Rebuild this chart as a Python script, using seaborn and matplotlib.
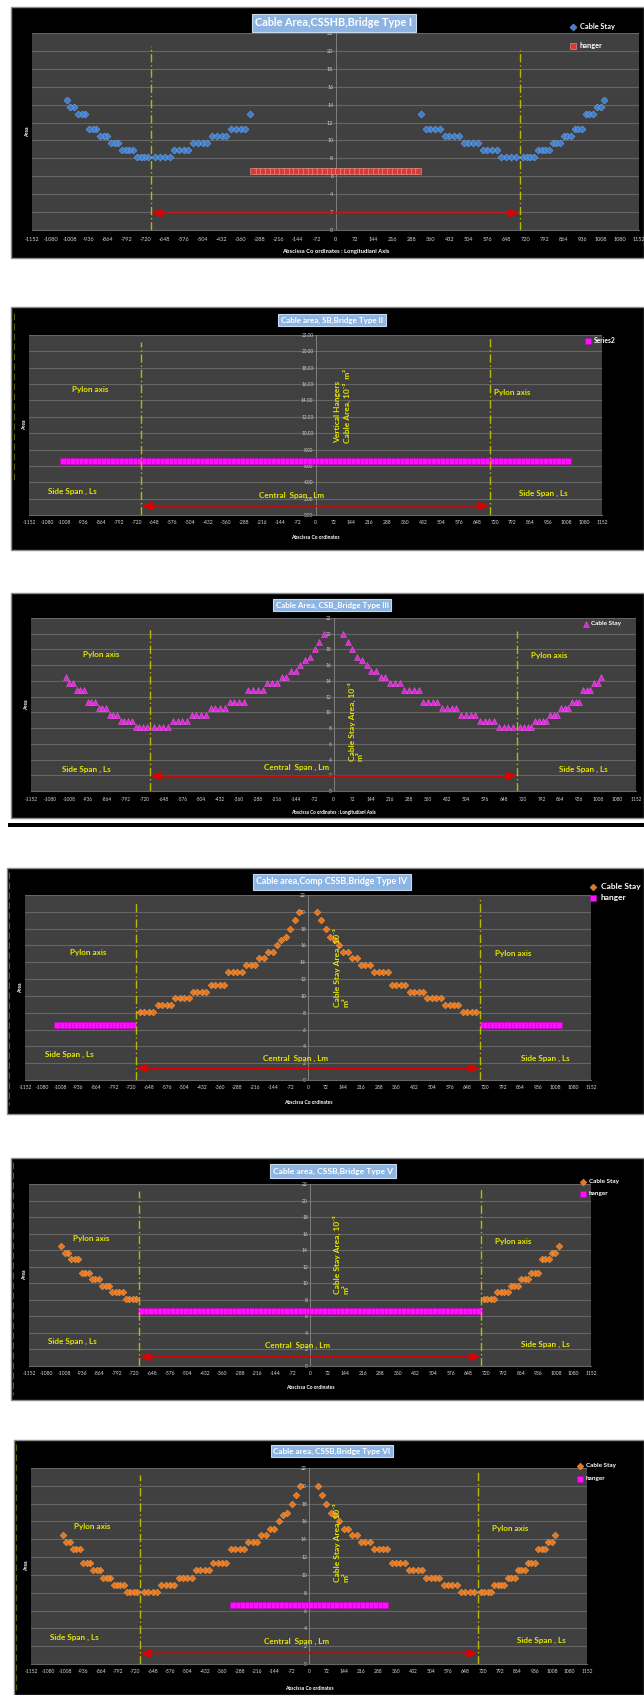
import matplotlib
matplotlib.use("Agg")
import matplotlib.pyplot as plt
from matplotlib.patches import Rectangle
from matplotlib.lines import Line2D
import pandas as pd
import seaborn as sns

# ---------------------------------------------------------------- data
X_TICK_LABELS = list(range(-1152, 1153, 72))
Y_TICK_LABELS = list(range(0, 23, 2))
PYLON_X = [-700, 700]

# cable-stay anchorages, one half of the bridge (side span: from pylon outward)
SIDE_X = [712, 726, 740, 754, 768, 782, 796, 810, 824, 838, 852, 866,
          880, 894, 908, 922, 936, 950, 964, 978, 992, 1006, 1020]
SIDE_AREA = [8.1, 8.1, 8.1, 8.1, 8.9, 8.9, 8.9, 8.9, 9.7, 9.7, 9.7, 10.5,
             10.5, 10.5, 11.3, 11.3, 11.3, 12.9, 12.9, 12.9, 13.7, 13.7, 14.5]
# main span: from pylon inward to mid-span
MAIN_X = [684, 666, 648, 630, 612, 594, 576, 558, 540, 522, 504, 486,
          468, 450, 432, 414, 396, 378, 360, 342, 324, 306, 288, 270,
          252, 234, 216, 198, 180, 162, 144, 126, 108, 90, 72, 54, 36]
MAIN_AREA = [8.1, 8.1, 8.1, 8.1, 8.9, 8.9, 8.9, 8.9, 9.7, 9.7, 9.7, 9.7,
             10.5, 10.5, 10.5, 10.5, 11.3, 11.3, 11.3, 11.3, 12.9, 12.9, 12.9, 12.9,
             13.7, 13.7, 13.7, 14.5, 14.5, 15.2, 15.2, 16.0, 16.7, 17.0, 18.0, 19.0, 20.0]
TYPE1_MAIN_STAYS = 21
# hangers, one half
HANGER_X = [9, 27, 45, 63, 81, 99, 117, 135, 153, 171, 189, 207, 225, 243, 261,
            279, 297, 315, 333, 351, 369, 387, 405, 423, 441, 459, 477, 495, 513,
            531, 549, 567, 585, 603, 621, 639, 657, 675, 693, 711, 729, 747, 765,
            783, 801, 819, 837, 855, 873, 891, 909, 927, 945, 963, 981, 999, 1017]
HANGER_AREA = 6.6

TITLES = ["Cable Area,CSSHB,Bridge Type I",
          "Cable area, SB,Bridge Type II",
          "Cable Area, CSB_Bridge Type III",
          "Cable area,Comp CSSB,Bridge Type IV",
          "Cable area, CSSB,Bridge Type V",
          "Cable area, CSSB,Bridge Type VI"]
XLABELS = ["Abscissa Co ordinates : Longitudianl Axis",
           "Abscissa Co ordinates",
           "Abscissa Co ordinates : Longitudianl Axis",
           "Abscissa Co ordinates",
           "Abscissa Co ordinates",
           "Abscissa Co ordinates"]


def both_sides(xs, ys):
    return pd.DataFrame({"x": [-v for v in xs] + list(xs),
                         "area": list(ys) + list(ys)})


def hangers_within(limit):
    xs = [h for h in HANGER_X if h <= limit]
    return both_sides(xs, [HANGER_AREA] * len(xs))


STAYS_FULL = both_sides(SIDE_X + MAIN_X, SIDE_AREA + MAIN_AREA)
STAYS_T1 = both_sides(SIDE_X + MAIN_X[:TYPE1_MAIN_STAYS],
                      SIDE_AREA + MAIN_AREA[:TYPE1_MAIN_STAYS])
STAYS_MAIN = both_sides(MAIN_X, MAIN_AREA)
STAYS_SIDE = both_sides(SIDE_X, SIDE_AREA)
HANG_SIDE = both_sides(SIDE_X, [HANGER_AREA] * len(SIDE_X))

# ---------------------------------------------------------------- style
sns.set_style("dark")
plt.rcParams["font.family"] = ["Lato", "DejaVu Sans"]
plt.rcParams["axes.unicode_minus"] = False

W, H = 644, 1695
PLOT_BG = "#404040"
GRID = "#666666"
YELLOW = "#e6e600"
PYLON_C = "#b8b800"

BLUE = dict(marker="D", s=13, fc="#3d7dd0", ec="#86b4ee", lw=0.3)
RED_SQ = dict(marker="s", s=22, fc="#d63b36", ec="#f29a96", lw=0.4)
MAG_SQ = dict(marker="s", s=20, fc="#ff10ff", ec="#c000c0", lw=0.4)
MAG_TRI = dict(marker="^", s=18, fc="#e424dc", ec="#f070f0", lw=0.3)
ORANGE = dict(marker="D", s=12, fc="#e8741c", ec="#ffb060", lw=0.3)

fig = plt.figure(figsize=(W / 100, H / 100), dpi=100)
fig.patch.set_facecolor("white")


def px_rect(l, t, r, b):
    return [l / W, 1 - b / H, (r - l) / W, (b - t) / H]


def draw_panel(p):
    l, t, r, b = p["frame"]
    fig.add_artist(Rectangle((l / W, 1 - b / H), (r - l) / W, (b - t) / H,
                             transform=fig.transFigure, facecolor="black",
                             edgecolor="#8c8c8c", linewidth=1.0, zorder=-10))
    ax = fig.add_axes(px_rect(*p["plot"]))
    ax.set_facecolor(PLOT_BG)

    for df, st, lab in p["series"]:
        sns.scatterplot(data=df, x="x", y="area", ax=ax, marker=st["marker"],
                        s=st["s"], color=st["fc"], edgecolor=st["ec"],
                        linewidth=st["lw"], label=lab, zorder=3)

    ax.set_xlim(-1152, 1152)
    ax.set_ylim(0, 22)
    ax.set_xticks(X_TICK_LABELS)
    ax.set_xticklabels([str(v) for v in X_TICK_LABELS])
    ax.set_yticks(Y_TICK_LABELS)
    ax.set_yticklabels([p["yfmt"].format(v) for v in Y_TICK_LABELS])
    ax.grid(axis="y", color=GRID, linewidth=0.8)
    ax.grid(axis="x", visible=False)
    ax.set_axisbelow(True)
    for s in ("top", "right"):
        ax.spines[s].set_visible(False)
    ax.spines["left"].set_position(("data", 0))
    ax.spines["left"].set_color("#8a8a8a")
    ax.spines["left"].set_linewidth(0.6)
    ax.spines["bottom"].set_color(GRID)
    ax.spines["bottom"].set_linewidth(0.8)
    ax.tick_params(axis="x", length=0, pad=p["xpad"], labelsize=p["xt_fs"],
                   labelcolor="#d8d8d8")
    ax.tick_params(axis="y", length=0, pad=1.5, labelsize=p["yt_fs"],
                   labelcolor="#d0d0d0")

    ax.set_ylabel("Area", fontsize=3.6, fontweight="bold", color="white")
    ax.yaxis.set_label_coords(-0.004, 0.5)
    ax.set_xlabel(p["xlabel"], fontsize=p["xl_fs"], fontweight="bold", color="white")
    ax.xaxis.set_label_coords(0.5, p["xly"])

    # pylon axes
    for x, top in zip(PYLON_X, p["pylon_top"]):
        ax.plot([x, x], [0, top], color=PYLON_C, lw=1.0,
                ls=(0, (6, 2, 1, 2)), zorder=4)
    # central span arrow
    ax.annotate("", xy=(PYLON_X[1], p["arrow_y"]), xytext=(PYLON_X[0], p["arrow_y"]),
                arrowprops=dict(arrowstyle="<|-|>,head_length=0.9,head_width=0.35",
                                color="#e00000", lw=1.1, mutation_scale=7,
                                shrinkA=0, shrinkB=0), zorder=5)
    # annotations
    for s, x, y in p["notes"]:
        ax.text(x, y, s, color=YELLOW, fontsize=5.9, fontweight="bold",
                ha="center", va="center", zorder=5)
    if p.get("vert"):
        s, x, y = p["vert"]
        ax.text(x, y, s, color=YELLOW, fontsize=6.0, fontweight="bold",
                rotation=90, ha="center", va="center", multialignment="left",
                zorder=5)

    # title
    tx, ty = p["title_xy"]
    fig.text(tx / W, 1 - ty / H, p["title"], ha="center", va="center",
             color="white", fontweight="bold", fontsize=p["title_fs"], zorder=6,
             bbox=dict(boxstyle="square,pad=0.35", fc="#8db4e2", ec="#c6d9f1", lw=0.8))

    # legend
    handles, labels = ax.get_legend_handles_labels()
    lx, ly = p["legend_xy"]
    leg = ax.legend(handles, labels, loc="upper left",
                    bbox_to_anchor=(lx / W, 1 - ly / H), bbox_transform=fig.transFigure,
                    frameon=False, borderpad=0, borderaxespad=0, handlelength=0.8,
                    handletextpad=0.5, labelspacing=p["legend_sp"],
                    prop={"weight": "bold", "size": p["legend_fs"]})
    for txt in leg.get_texts():
        txt.set_color("white")
    return ax


PANELS = [
    dict(frame=(11, 7, 644, 258), plot=(32, 33, 639, 230), title=TITLES[0],
         title_xy=(334, 23), title_fs=7.8,
         series=[(STAYS_T1, BLUE, "Cable Stay"), (hangers_within(315), RED_SQ, "hanger")],
         yfmt="{:d}", xt_fs=4.0, yt_fs=4.0, xpad=5.0, xlabel=XLABELS[0], xl_fs=4.2, xly=-0.095,
         pylon_top=[20.5, 20.1], arrow_y=1.9, notes=[], vert=None,
         legend_xy=(570, 22.7), legend_fs=5.3, legend_sp=1.68),
    dict(frame=(11, 307, 644, 550), plot=(29, 335, 602, 515), title=TITLES[1],
         title_xy=(332, 320), title_fs=5.8,
         series=[(hangers_within(1017), MAG_SQ, "Series2")],
         yfmt="{:.2f}", xt_fs=3.6, yt_fs=3.4, xpad=3.5, xlabel=XLABELS[1], xl_fs=3.6, xly=-0.11,
         pylon_top=[21.1, 21.6], arrow_y=1.1,
         notes=[("Pylon axis", -905, 15.3), ("Pylon axis", 792, 15.0),
                ("Side Span , Ls", -977, 2.9), ("Side Span , Ls", 917, 2.6),
                ("Central  Span , Lm", -96, 2.4)],
         vert=("Vertical Hangers\nCable Area, 10\u207b\u00b3  m\u00b2", 108, 13.3),
         legend_xy=(585, 337), legend_fs=4.8, legend_sp=1.0),
    dict(frame=(11, 593, 644, 818), plot=(31, 618, 636, 791), title=TITLES[2],
         title_xy=(332, 605), title_fs=5.8,
         series=[(STAYS_FULL, MAG_TRI, "Cable Stay")],
         yfmt="{:d}", xt_fs=3.4, yt_fs=3.4, xpad=4.5, xlabel=XLABELS[2], xl_fs=3.4, xly=-0.11,
         pylon_top=[20.7, 20.4], arrow_y=1.9,
         notes=[("Pylon axis", -883, 17.4), ("Pylon axis", 822, 17.2),
                ("Side Span , Ls", -940, 2.8), ("Side Span , Ls", 952, 2.8),
                ("Central  Span , Lm", -141, 3.05)],
         vert=("Cable Stay Area, 10\u207b\u00b3\nm\u00b2", 84, 8.8),
         legend_xy=(583, 621), legend_fs=4.6, legend_sp=1.0),
    dict(frame=(7, 868, 644, 1114), plot=(25, 895, 591, 1080), title=TITLES[3],
         title_xy=(332, 882), title_fs=6.4,
         series=[(STAYS_MAIN, ORANGE, "Cable Stay"), (HANG_SIDE, MAG_SQ, "hanger")],
         yfmt="{:d}", xt_fs=3.6, yt_fs=3.6, xpad=3.3, xlabel=XLABELS[3], xl_fs=3.6, xly=-0.108,
         pylon_top=[21.0, 21.5], arrow_y=1.4,
         notes=[("Pylon axis", -895, 15.2), ("Pylon axis", 834, 15.1),
                ("Side Span , Ls", -973, 3.0), ("Side Span , Ls", 965, 2.6),
                ("Central  Span , Lm", -49, 2.6)],
         vert=("Cable Stay Area, 10\u207b\u00b3\nm\u00b2", 134, 13.3),
         legend_xy=(589.7, 883), legend_fs=6.0, legend_sp=0.51),
    dict(frame=(11, 1158, 644, 1400), plot=(29, 1184, 591, 1366), title=TITLES[4],
         title_xy=(333, 1171), title_fs=6.1,
         series=[(STAYS_SIDE, ORANGE, "Cable Stay"), (hangers_within(693), MAG_SQ, "hanger")],
         yfmt="{:d}", xt_fs=3.6, yt_fs=3.6, xpad=3.3, xlabel=XLABELS[4], xl_fs=3.6, xly=-0.104,
         pylon_top=[21.1, 21.6], arrow_y=1.1,
         notes=[("Pylon axis", -898, 15.4), ("Pylon axis", 832, 15.1),
                ("Side Span , Ls", -976, 3.0), ("Side Span , Ls", 963, 2.6),
                ("Central  Span , Lm", -49, 2.5)],
         vert=("Cable Stay Area, 10\u207b\u00b3\nm\u00b2", 127, 13.5),
         legend_xy=(580.4, 1179), legend_fs=4.6, legend_sp=1.0),
    dict(frame=(14, 1440, 644, 1695), plot=(31, 1468, 587, 1664), title=TITLES[5],
         title_xy=(332, 1451), title_fs=5.9,
         series=[(STAYS_FULL, ORANGE, "Cable Stay"), (hangers_within(315), MAG_SQ, "hanger")],
         yfmt="{:d}", xt_fs=3.6, yt_fs=3.6, xpad=3.6, xlabel=XLABELS[5], xl_fs=3.6, xly=-0.112,
         pylon_top=[21.2, 21.7], arrow_y=1.2,
         notes=[("Pylon axis", -899, 15.4), ("Pylon axis", 833, 15.2),
                ("Side Span , Ls", -974, 3.0), ("Side Span , Ls", 961, 2.6),
                ("Central  Span , Lm", -52, 2.5)],
         vert=("Cable Stay Area, 10\u207b\u00b3\nm\u00b2", 133, 13.6),
         legend_xy=(577.4, 1463), legend_fs=4.6, legend_sp=1.18),
]

for panel in PANELS:
    draw_panel(panel)

# extra black bar under panel III
fig.add_artist(Rectangle((8 / W, 1 - 827 / H), (644 - 8) / W, 4 / H,
                         transform=fig.transFigure, facecolor="black",
                         edgecolor="none", zorder=-10))
# faint pylon-like dashed marks on the left frame edges
for x, y0, y1 in [(13.5, 313, 480), (9, 872, 1105), (13, 1162, 1395), (16, 1444, 1690)]:
    fig.add_artist(Line2D([x / W, x / W], [1 - y0 / H, 1 - y1 / H],
                          transform=fig.transFigure, color="#5c5c00", lw=0.8,
                          ls=(0, (6, 3)), zorder=-5))

fig.savefig("out.png", dpi=100, facecolor="white")
